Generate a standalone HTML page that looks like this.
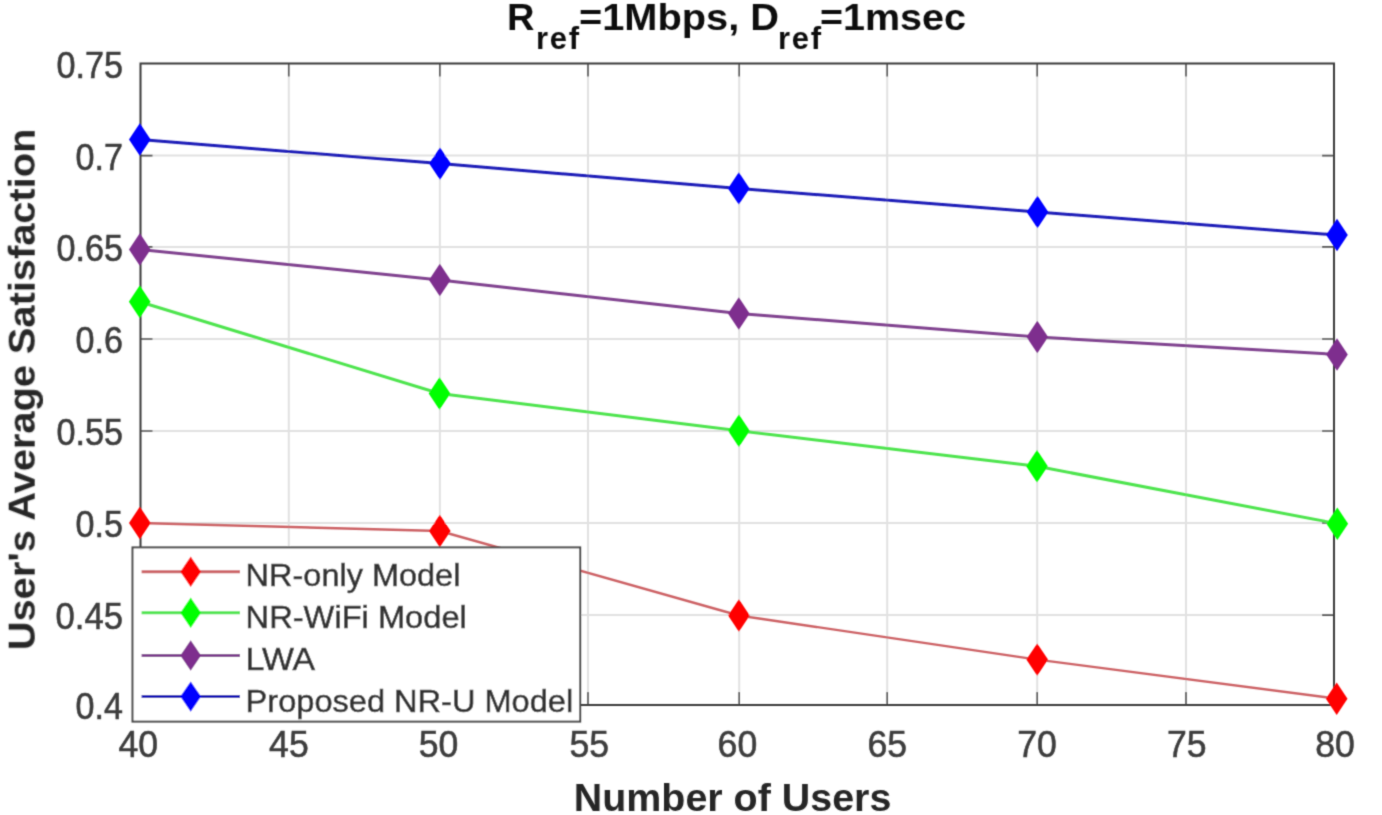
<!DOCTYPE html>
<html><head><meta charset="utf-8"><title>chart</title>
<style>
html,body{margin:0;padding:0;background:#fff;overflow:hidden}
svg{display:block}
text{font-family:"Liberation Sans",sans-serif}
</style></head>
<body>
<svg width="1382" height="815" viewBox="0 0 1382 815">
<defs><filter id="soft" x="0" y="0" width="1382" height="815" filterUnits="userSpaceOnUse"><feConvolveMatrix order="3" kernelMatrix="1 4 1 4 16 4 1 4 1" divisor="36" edgeMode="duplicate" preserveAlpha="false"/></filter></defs>
<rect width="1382" height="815" fill="#fff"/>
<g filter="url(#soft)">
<path d="M288.75 63.5V705.0M439.85 63.5V705.0M588.00 63.5V705.0M739.20 63.5V705.0M887.20 63.5V705.0M1037.20 63.5V705.0M1186.00 63.5V705.0M140.5 155.60H1334.0M140.5 246.90H1334.0M140.5 339.00H1334.0M140.5 431.00H1334.0M140.5 523.00H1334.0M140.5 615.10H1334.0" stroke="#e1e1e1" stroke-width="2" fill="none"/>
<path d="M288.75 63.5v13M288.75 705.0v-13M439.85 63.5v13M439.85 705.0v-13M588.00 63.5v13M588.00 705.0v-13M739.20 63.5v13M739.20 705.0v-13M887.20 63.5v13M887.20 705.0v-13M1037.20 63.5v13M1037.20 705.0v-13M1186.00 63.5v13M1186.00 705.0v-13M140.5 155.60h12M1334.0 155.60h-12M140.5 246.90h12M1334.0 246.90h-12M140.5 339.00h12M1334.0 339.00h-12M140.5 431.00h12M1334.0 431.00h-12M140.5 523.00h12M1334.0 523.00h-12M140.5 615.10h12M1334.0 615.10h-12" stroke="#555" stroke-width="1.6" fill="none"/>
<rect x="140.5" y="63.5" width="1193.5" height="641.5" fill="none" stroke="#3a3a3a" stroke-width="2"/>
<path d="M139.8 523.0L439.8 531.0L738.9 615.5L1037.2 659.6L1336.7 698.7" stroke="#cc6064" stroke-width="2.4" fill="none" stroke-linejoin="round"/>
<path d="M139.8 506.8L150.6 523.0L139.8 539.2L129.0 523.0Z" fill="#ff0000"/>
<path d="M439.8 514.8L450.6 531.0L439.8 547.2L429.0 531.0Z" fill="#ff0000"/>
<path d="M738.9 599.3L749.7 615.5L738.9 631.7L728.1 615.5Z" fill="#ff0000"/>
<path d="M1037.2 643.4L1048.0 659.6L1037.2 675.8L1026.4 659.6Z" fill="#ff0000"/>
<path d="M1336.7 682.5L1347.5 698.7L1336.7 714.9L1325.9 698.7Z" fill="#ff0000"/>
<path d="M139.7 301.8L439.5 393.5L738.9 430.7L1037.0 466.3L1337.3 523.7" stroke="#4ee44e" stroke-width="3" fill="none" stroke-linejoin="round"/>
<path d="M139.7 285.6L150.5 301.8L139.7 318.0L128.9 301.8Z" fill="#00ff00"/>
<path d="M439.5 377.3L450.3 393.5L439.5 409.7L428.7 393.5Z" fill="#00ff00"/>
<path d="M738.9 414.5L749.7 430.7L738.9 446.9L728.1 430.7Z" fill="#00ff00"/>
<path d="M1037.0 450.1L1047.8 466.3L1037.0 482.5L1026.2 466.3Z" fill="#00ff00"/>
<path d="M1337.3 507.5L1348.1 523.7L1337.3 539.9L1326.5 523.7Z" fill="#00ff00"/>
<path d="M139.8 249.5L439.8 280.0L738.8 313.5L1037.3 337.0L1337.0 354.5" stroke="#80428f" stroke-width="3" fill="none" stroke-linejoin="round"/>
<path d="M139.8 233.3L150.6 249.5L139.8 265.7L129.0 249.5Z" fill="#7e2f8e"/>
<path d="M439.8 263.8L450.6 280.0L439.8 296.2L429.0 280.0Z" fill="#7e2f8e"/>
<path d="M738.8 297.3L749.6 313.5L738.8 329.7L728.0 313.5Z" fill="#7e2f8e"/>
<path d="M1037.3 320.8L1048.1 337.0L1037.3 353.2L1026.5 337.0Z" fill="#7e2f8e"/>
<path d="M1337.0 338.3L1347.8 354.5L1337.0 370.7L1326.2 354.5Z" fill="#7e2f8e"/>
<path d="M139.8 139.5L440.0 163.6L738.8 188.4L1037.5 212.0L1337.0 235.0" stroke="#1e1eb8" stroke-width="3" fill="none" stroke-linejoin="round"/>
<path d="M139.8 123.3L150.6 139.5L139.8 155.7L129.0 139.5Z" fill="#0000ff"/>
<path d="M440.0 147.4L450.8 163.6L440.0 179.8L429.2 163.6Z" fill="#0000ff"/>
<path d="M738.8 172.2L749.6 188.4L738.8 204.6L728.0 188.4Z" fill="#0000ff"/>
<path d="M1037.5 195.8L1048.3 212.0L1037.5 228.2L1026.7 212.0Z" fill="#0000ff"/>
<path d="M1337.0 218.8L1347.8 235.0L1337.0 251.2L1326.2 235.0Z" fill="#0000ff"/>
<text x="56.5" y="77.7" font-size="36" fill="#3c3c3c" stroke="#3c3c3c" stroke-width="0.55" textLength="66.5" lengthAdjust="spacingAndGlyphs">0.75</text>
<text x="75.6" y="169.8" font-size="36" fill="#3c3c3c" stroke="#3c3c3c" stroke-width="0.55" textLength="47.4" lengthAdjust="spacingAndGlyphs">0.7</text>
<text x="56.5" y="261.1" font-size="36" fill="#3c3c3c" stroke="#3c3c3c" stroke-width="0.55" textLength="66.5" lengthAdjust="spacingAndGlyphs">0.65</text>
<text x="75.6" y="353.2" font-size="36" fill="#3c3c3c" stroke="#3c3c3c" stroke-width="0.55" textLength="47.4" lengthAdjust="spacingAndGlyphs">0.6</text>
<text x="56.5" y="445.2" font-size="36" fill="#3c3c3c" stroke="#3c3c3c" stroke-width="0.55" textLength="66.5" lengthAdjust="spacingAndGlyphs">0.55</text>
<text x="75.6" y="537.2" font-size="36" fill="#3c3c3c" stroke="#3c3c3c" stroke-width="0.55" textLength="47.4" lengthAdjust="spacingAndGlyphs">0.5</text>
<text x="55.5" y="629.3" font-size="36" fill="#3c3c3c" stroke="#3c3c3c" stroke-width="0.55" textLength="67.5" lengthAdjust="spacingAndGlyphs">0.45</text>
<text x="75.6" y="719.2" font-size="36" fill="#3c3c3c" stroke="#3c3c3c" stroke-width="0.55" textLength="47.4" lengthAdjust="spacingAndGlyphs">0.4</text>
<text x="118.5" y="756.6" font-size="36" fill="#3c3c3c" stroke="#3c3c3c" stroke-width="0.55" textLength="39.6" lengthAdjust="spacingAndGlyphs">40</text>
<text x="269.1" y="756.6" font-size="36" fill="#3c3c3c" stroke="#3c3c3c" stroke-width="0.55" textLength="39.6" lengthAdjust="spacingAndGlyphs">45</text>
<text x="418.8" y="756.6" font-size="36" fill="#3c3c3c" stroke="#3c3c3c" stroke-width="0.55" textLength="39.6" lengthAdjust="spacingAndGlyphs">50</text>
<text x="569.4" y="756.6" font-size="36" fill="#3c3c3c" stroke="#3c3c3c" stroke-width="0.55" textLength="39.6" lengthAdjust="spacingAndGlyphs">55</text>
<text x="717.6" y="756.6" font-size="36" fill="#3c3c3c" stroke="#3c3c3c" stroke-width="0.55" textLength="39.6" lengthAdjust="spacingAndGlyphs">60</text>
<text x="867.4" y="756.6" font-size="36" fill="#3c3c3c" stroke="#3c3c3c" stroke-width="0.55" textLength="39.6" lengthAdjust="spacingAndGlyphs">65</text>
<text x="1017.3" y="756.6" font-size="36" fill="#3c3c3c" stroke="#3c3c3c" stroke-width="0.55" textLength="39.6" lengthAdjust="spacingAndGlyphs">70</text>
<text x="1167.0" y="756.6" font-size="36" fill="#3c3c3c" stroke="#3c3c3c" stroke-width="0.55" textLength="39.6" lengthAdjust="spacingAndGlyphs">75</text>
<text x="1315.2" y="756.6" font-size="36" fill="#3c3c3c" stroke="#3c3c3c" stroke-width="0.55" textLength="39.6" lengthAdjust="spacingAndGlyphs">80</text>
<rect x="132.5" y="547.4" width="447.70000000000005" height="174.20000000000005" fill="#fff" stroke="#4a4a4a" stroke-width="2"/>
<path d="M141.6 571.8H240" stroke="#cc6064" stroke-width="3" fill="none"/>
<path d="M190.7 556.6L201.1 571.8L190.7 587.0L180.3 571.8Z" fill="#ff0000"/>
<text x="245.6" y="585.6" font-size="32" fill="#333" stroke="#333" stroke-width="0.55" textLength="214.8" lengthAdjust="spacingAndGlyphs">NR-only Model</text>
<path d="M141.6 612.8H240" stroke="#4ee44e" stroke-width="3" fill="none"/>
<path d="M190.7 597.6L201.1 612.8L190.7 628.0L180.3 612.8Z" fill="#00ff00"/>
<text x="245.6" y="627.9" font-size="32" fill="#333" stroke="#333" stroke-width="0.55" textLength="221.2" lengthAdjust="spacingAndGlyphs">NR-WiFi Model</text>
<path d="M141.6 655.5H240" stroke="#80428f" stroke-width="3" fill="none"/>
<path d="M190.7 640.3L201.1 655.5L190.7 670.7L180.3 655.5Z" fill="#7e2f8e"/>
<text x="245.6" y="669.9" font-size="32" fill="#333" stroke="#333" stroke-width="0.55" textLength="69.6" lengthAdjust="spacingAndGlyphs">LWA</text>
<path d="M141.6 696.6H240" stroke="#1e1eb8" stroke-width="3" fill="none"/>
<path d="M190.7 681.4L201.1 696.6L190.7 711.8L180.3 696.6Z" fill="#0000ff"/>
<text x="245.6" y="711.6" font-size="32" fill="#333" stroke="#333" stroke-width="0.55" textLength="327.6" lengthAdjust="spacingAndGlyphs">Proposed NR-U Model</text>
<text x="507" y="30.4" font-size="37" font-weight="bold" fill="#111" textLength="27.5" lengthAdjust="spacingAndGlyphs">R</text>
<text x="536" y="48.7" font-size="31" font-weight="bold" fill="#111" textLength="43" lengthAdjust="spacing">ref</text>
<text x="579" y="30.4" font-size="37" font-weight="bold" fill="#111" textLength="200" lengthAdjust="spacingAndGlyphs">=1Mbps, D</text>
<text x="778" y="48.7" font-size="31" font-weight="bold" fill="#111" textLength="43" lengthAdjust="spacing">ref</text>
<text x="820" y="30.4" font-size="37" font-weight="bold" fill="#111" textLength="146" lengthAdjust="spacingAndGlyphs">=1msec</text>
<text x="573.8" y="810.8" font-size="38.5" font-weight="bold" fill="#262626" textLength="317.5" lengthAdjust="spacingAndGlyphs">Number of Users</text>
<text transform="translate(34.7 650.2) rotate(-90)" x="0" y="0" font-size="37.5" font-weight="bold" fill="#262626" textLength="521.5" lengthAdjust="spacingAndGlyphs">User's Average Satisfaction</text>
</g>
</svg>
</body></html>
